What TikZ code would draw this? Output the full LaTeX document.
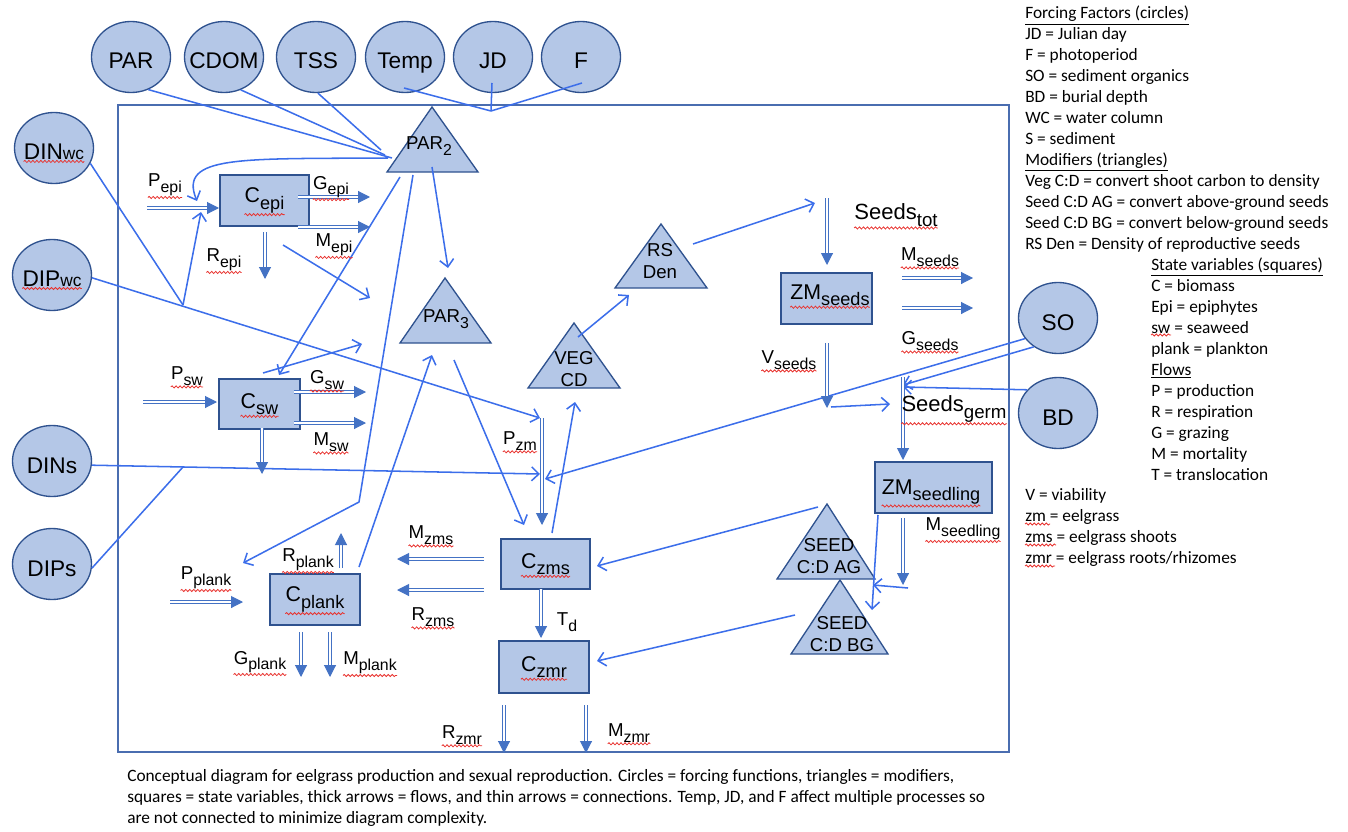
\documentclass[tikz,border=0pt]{standalone}
\usepackage{fontspec}
\setmainfont{Liberation Sans}
\newfontfamily\notefont{Carlito}
\usetikzlibrary{shapes.geometric,arrows.meta,decorations.pathmorphing}
\definecolor{boxfill}{HTML}{B4C7E7}
\definecolor{boxline}{HTML}{2F528F}
\definecolor{framecol}{HTML}{4A6DB0}
\definecolor{linkcol}{HTML}{3C6EEA}
\definecolor{flowcol}{HTML}{4472C4}
\definecolor{spellred}{HTML}{E8322E}
\makeatletter
\newcommand\lo[1]{\raisebox{-.3em}{\fontsize{\strip@pt\dimexpr.85\dimexpr\f@size pt\relax\relax}{1}\selectfont #1}}
\makeatother
\tikzset{
  forcing/.style = {ellipse, draw=boxline, fill=boxfill, line width=1pt, inner sep=0pt,
    minimum width=59.25pt, minimum height=53.25pt, text height=18pt, text depth=0pt,
    font=\fontsize{17}{20}\selectfont,
    execute at begin node={\hbox to 0pt\bgroup\hss}, execute at end node={\hss\egroup}},
  circlab/.style = {inner sep=0pt, yshift=-3pt, font=\fontsize{17}{20}\selectfont},
  statevar/.style = {rectangle, draw=boxline, fill=boxfill, line width=1pt, inner sep=0pt},
  boxlab/.style = {inner sep=0pt, font=\fontsize{16}{18}\selectfont},
  modif/.style = {draw=boxline, fill=boxfill, line width=1pt},
  modtxt/.style = {align=center, inner sep=0pt, font=\fontsize{14}{16.5}\selectfont},
  link/.style = {draw=linkcol, line width=1.15pt},
  arr/.style = {link, -{Straight Barb[length=5.5pt,width=10.5pt]}},
  flow/.style = {draw=flowcol, double=white, double distance=1.2pt, line width=0.8pt, -{Triangle[length=9pt,width=9pt]}},
  flowlab/.style = {inner sep=0pt, font=\fontsize{14}{16}\selectfont},
  seedlab/.style = {inner sep=0pt, font=\fontsize{16.5}{18}\selectfont},
  squig/.style = {draw=spellred, line width=0.6pt, decorate, decoration={snake, segment length=3pt, amplitude=0.8pt}},
  spelled/.style = {append after command={([yshift=-1pt]\tikzlastnode.south west) edge[squig] ([yshift=-1pt]\tikzlastnode.south east)}},
  legend/.style = {align=left, inner sep=0pt, anchor=north west, font=\notefont\fontsize{13}{15.7}\selectfont},
  capstyle/.style = {align=left, inner sep=0pt, anchor=north west, font=\notefont\fontsize{13}{15.75}\selectfont},
  frame/.style = {draw=framecol, line width=1.3pt}
}

\begin{document}
\begin{tikzpicture}[x=0.75pt, y=-0.75pt]
\useasboundingbox (0,0) rectangle (1348,831);
\draw[frame] (118,105) rectangle (1009,752);

% forcing factors
\node[forcing] (par) at (131,57) {PAR};
\node[forcing] (cdom) at (224,57) {CDOM};
\node[forcing] (tss) at (316,57) {TSS};
\node[forcing] (temp) at (405,57) {Temp};
\node[forcing] (jd) at (493,57) {JD};
\node[forcing] (f) at (581,57) {F};
\node[forcing] (dinwc) at (54,148) {};
\node[forcing] (dipwc) at (52,275) {};
\node[forcing] (dins) at (52,461) {DINs};
\node[forcing] (dips) at (52,564) {DIPs};
\node[forcing] (so) at (1058,318) {SO};
\node[forcing] (bd) at (1058,413) {BD};
\node[circlab, spelled] (tdinwc) at (dinwc) {DIN{\fontsize{13}{13}\selectfont wc}};
\node[circlab, spelled] (tdipwc) at (dipwc) {DIP{\fontsize{13}{13}\selectfont wc}};

% state variables
\node[statevar, minimum width=66.75pt, minimum height=38.25pt] (cepi) at (264.5,200.5) {};
\node[statevar, minimum width=60.75pt, minimum height=37.5pt] (csw) at (259.5,404) {};
\node[statevar, minimum width=67.5pt, minimum height=38.25pt] (cplank) at (315,599.5) {};
\node[statevar, minimum width=66.75pt, minimum height=37.5pt] (czms) at (545.5,564) {};
\node[statevar, minimum width=67.5pt, minimum height=39pt] (czmr) at (544,667) {};
\node[statevar, minimum width=68.25pt, minimum height=38.25pt] (zmseeds) at (826.5,298.5) {};
\node[statevar, minimum width=87.75pt, minimum height=38.25pt] (zmseedling) at (933.5,487.5) {};
\node[boxlab, spelled] (tcepi) at (cepi) {C\lo{epi}};
\node[boxlab, spelled] (tcsw) at (csw) {C\lo{sw}};
\node[boxlab, spelled] (tcplank) at (cplank) {C\lo{plank}};
\node[boxlab, spelled] (tczms) at (czms) {C\lo{zms}};
\node[boxlab, spelled] (tczmr) at (czmr) {C\lo{zmr}};
\node[boxlab, spelled] (tzmseeds) at (830,295) {ZM\lo{seeds}};
\node[boxlab, spelled] (tzmseedling) at (931,492) {ZM\lo{seedling}};

% modifiers
\filldraw[modif] (432,107) -- (478,172) -- (387,172) -- cycle;
\filldraw[modif] (445,278) -- (491,343) -- (400,343) -- cycle;
\filldraw[modif] (574,323) -- (620,388) -- (528,388) -- cycle;
\filldraw[modif] (661,224) -- (707,288) -- (615,288) -- cycle;
\filldraw[modif] (840,580) -- (888,654) -- (791,654) -- cycle;
\filldraw[modif] (827,504) -- (875,579) -- (777,579) -- cycle;
\node[modtxt] (par2) at (429,146) {PAR\lo{2}};
\node[modtxt] (par3) at (446,319) {PAR\lo{3}};
\node[modtxt] (vegcd) at (574,369) {VEG\\CD};
\node[modtxt] (rsden) at (660,261) {RS\\Den};
\node[modtxt] (seedag) at (829,556) {SEED\\C:D AG};
\node[modtxt] (seedbg) at (842,634) {SEED\\C:D BG};

% connection points
\coordinate (p2a) at (392,158); \coordinate (p2b) at (385,155); \coordinate (p2c) at (381,150);
\coordinate (tempout) at (404,88); \coordinate (jdout) at (492,83); \coordinate (fout) at (582,83);
\coordinate (fjoin) at (491,111);
\coordinate (p2bow) at (388,158); \coordinate (epiin) at (197,201);
\coordinate (wcjoin) at (183,305); \coordinate (epiin2) at (201,212);
\coordinate (epiout) at (283,245); \coordinate (epiend) at (370,298);
\coordinate (p2sw) at (400,177); \coordinate (swin) at (279,375);
\coordinate (p2pl) at (413,175); \coordinate (plbend) at (359,502); \coordinate (plin) at (243,563);
\coordinate (p2p3) at (432,167); \coordinate (p3top) at (448,268);
\coordinate (swout) at (263,373); \coordinate (swend) at (362,344);
\coordinate (plout) at (359,567); \coordinate (p3bot) at (432,355);
\coordinate (p3out) at (454,360); \coordinate (zmsin) at (524,525);
\coordinate (pzmtop) at (540,418); \coordinate (pzmmid) at (540,474); \coordinate (pzmright) at (545,479);
\coordinate (sjoin) at (183,467);
\coordinate (germin) at (903,385); \coordinate (germin2) at (903,387);
\coordinate (vjoin) at (831,407); \coordinate (germleft) at (890,404);
\coordinate (rsout) at (693,244); \coordinate (totin) at (815,203);
\coordinate (vegout) at (578,337); \coordinate (rsin) at (629,295);
\coordinate (zmsout) at (552,533); \coordinate (vegin) at (575,402);
\coordinate (agout) at (818,507); \coordinate (zmsin2) at (597,566);
\coordinate (bgout) at (795,615); \coordinate (zmrin) at (597,661);
\coordinate (slout) at (878,515); \coordinate (bgin) at (872,610);
\coordinate (slout2) at (908,588); \coordinate (agin) at (873,585);

% connections
\draw[link] (par.-62) -- (p2a);
\draw[link] (cdom.-63) -- (p2b);
\draw[link] (tss.-87) -- (p2c);
\draw[link] (tempout) -- (fjoin);
\draw[link] (jdout) -- (fjoin);
\draw[link] (fout) -- (fjoin);
\draw[arr] (p2bow) .. controls (240,159) and (178,155) .. (epiin);
\draw[link] (dinwc.-23) -- (wcjoin);
\draw[arr] (dipwc.-4) -- (pzmtop);
\draw[arr] (wcjoin) -- (epiin2);
\draw[arr] (epiout) -- (epiend);
\draw[arr] (p2sw) -- (swin);
\draw[arr] (p2pl) -- (plbend) -- (plin);
\draw[arr] (p2p3) -- (p3top);
\draw[arr] (swout) -- (swend);
\draw[arr] (plout) -- (p3bot);
\draw[arr] (p3out) -- (zmsin);
\draw[arr] (dins.-6) -- (pzmmid);
\draw[link] (dips.-6) -- (sjoin);
\draw[arr] (so.212) -- (pzmright);
\draw[arr] (so.230) -- (germin);
\draw[arr] (bd.143) -- (germin2);
\draw[arr] (vjoin) -- (germleft);
\draw[arr] (rsout) -- (totin);
\draw[arr] (vegout) -- (rsin);
\draw[arr] (zmsout) -- (vegin);
\draw[arr] (agout) -- (zmsin2);
\draw[arr] (bgout) -- (zmrin);
\draw[arr] (slout) -- (bgin);
\draw[arr] (slout2) -- (agin);

% flow points
\coordinate (pepi0) at (147,208); \coordinate (pepi1) at (219,208);
\coordinate (gepi0) at (298,197); \coordinate (gepi1) at (370,197);
\coordinate (mepi0) at (298,227); \coordinate (mepi1) at (370,227);
\coordinate (repi0) at (265,232); \coordinate (repi1) at (265,279);
\coordinate (psw0) at (143,402); \coordinate (psw1) at (217,402);
\coordinate (gsw0) at (294,392); \coordinate (gsw1) at (366,392);
\coordinate (msw0) at (294,423); \coordinate (msw1) at (366,423);
\coordinate (rsw0) at (262,428); \coordinate (rsw1) at (262,474);
\coordinate (ppl0) at (170,602); \coordinate (ppl1) at (243,602);
\coordinate (rpl0) at (341,568); \coordinate (rpl1) at (341,533);
\coordinate (gpl0) at (301,632); \coordinate (gpl1) at (301,677);
\coordinate (mpl0) at (330,632); \coordinate (mpl1) at (330,677);
\coordinate (mzms0) at (484,559); \coordinate (mzms1) at (397,559);
\coordinate (rzms0) at (484,590); \coordinate (rzms1) at (397,590);
\coordinate (pzm0) at (542,418); \coordinate (pzm1) at (542,525);
\coordinate (td0) at (541,589); \coordinate (td1) at (541,638);
\coordinate (rzmr0) at (504,705); \coordinate (rzmr1) at (504,753);
\coordinate (mzmr0) at (586,705); \coordinate (mzmr1) at (586,753);
\coordinate (tot0) at (827,198); \coordinate (tot1) at (827,265);
\coordinate (msd0) at (902,278); \coordinate (msd1) at (973,278);
\coordinate (gsd0) at (902,308); \coordinate (gsd1) at (973,308);
\coordinate (vsd0) at (827,343); \coordinate (vsd1) at (827,408);
\coordinate (germ0) at (903,377); \coordinate (germ1) at (903,460);
\coordinate (msl0) at (903,518); \coordinate (msl1) at (903,585);

% flows
\draw[flow] (pepi0) -- (pepi1);
\draw[flow] (gepi0) -- (gepi1);
\draw[flow] (mepi0) -- (mepi1);
\draw[flow] (repi0) -- (repi1);
\draw[flow] (psw0) -- (psw1);
\draw[flow] (gsw0) -- (gsw1);
\draw[flow] (msw0) -- (msw1);
\draw[flow] (rsw0) -- (rsw1);
\draw[flow] (ppl0) -- (ppl1);
\draw[flow] (rpl0) -- (rpl1);
\draw[flow] (gpl0) -- (gpl1);
\draw[flow] (mpl0) -- (mpl1);
\draw[flow] (mzms0) -- (mzms1);
\draw[flow] (rzms0) -- (rzms1);
\draw[flow] (pzm0) -- (pzm1);
\draw[flow] (td0) -- (td1);
\draw[flow] (rzmr0) -- (rzmr1);
\draw[flow] (mzmr0) -- (mzmr1);
\draw[flow] (tot0) -- (tot1);
\draw[flow] (msd0) -- (msd1);
\draw[flow] (gsd0) -- (gsd1);
\draw[flow] (vsd0) -- (vsd1);
\draw[flow] (germ0) -- (germ1);
\draw[flow] (msl0) -- (msl1);

% flow labels
\node[flowlab, spelled] (lpepi) at (165,185) {P\lo{epi}};
\node[flowlab, spelled] (lgepi) at (331,187) {G\lo{epi}};
\node[flowlab, spelled] (lmepi) at (334,245) {M\lo{epi}};
\node[flowlab, spelled] (lrepi) at (224,260) {R\lo{epi}};
\node[flowlab, spelled] (lpsw) at (187,376) {P\lo{sw}};
\node[flowlab, spelled] (lgsw) at (327,380) {G\lo{sw}};
\node[flowlab, spelled] (lmsw) at (331,442) {M\lo{sw}};
\node[flowlab, spelled] (lppl) at (206,578) {P\lo{plank}};
\node[flowlab, spelled] (lrpl) at (308,560) {R\lo{plank}};
\node[flowlab, spelled] (lgpl) at (260,662) {G\lo{plank}};
\node[flowlab, spelled] (lmpl) at (370,663) {M\lo{plank}};
\node[flowlab, spelled] (lmzms) at (431,535) {M\lo{zms}};
\node[flowlab, spelled] (lrzms) at (433,617) {R\lo{zms}};
\node[flowlab, spelled] (lpzm) at (520,441) {P\lo{zm}};
\node[flowlab] (ltd) at (567,622) {T\lo{d}};
\node[flowlab, spelled] (lrzmr) at (462,735) {R\lo{zmr}};
\node[flowlab, spelled] (lmzmr) at (629,733) {M\lo{zmr}};
\node[seedlab, spelled] (ltot) at (896,215) {Seeds\lo{tot}};
\node[flowlab, spelled] (lmsd) at (930,257) {M\lo{seeds}};
\node[flowlab, spelled] (lgsd) at (930,341) {G\lo{seeds}};
\node[flowlab, spelled] (lvsd) at (789,360) {V\lo{seeds}};
\node[seedlab, spelled] (lgerm) at (954,409) {Seeds\lo{germ}};
\node[flowlab, spelled] (lmsl) at (963,529) {M\lo{seedling}};

% legend and caption
\node[legend] (forcings) at (1025,6) {\underline{Forcing Factors (circles)}\\JD = Julian day\\F = photoperiod\\SO = sediment organics\\BD = burial depth\\WC = water column\\S = sediment\\\underline{Modifiers (triangles)}\\Veg C:D = convert shoot carbon to density\\Seed C:D AG = convert above-ground seeds\\Seed C:D BG = convert below-ground seeds\\RS Den = Density of reproductive seeds};
\node[legend] (statevars) at (1151,258) {\underline{State variables (squares)}\\C = biomass\\Epi = epiphytes\\sw = seaweed\\plank = plankton\\\underline{Flows}\\P = production\\R = respiration\\G = grazing\\M = mortality\\T = translocation};
\node[legend] (subnames) at (1025,488) {V = viability\\zm = eelgrass\\zms = eelgrass shoots\\zmr = eelgrass roots/rhizomes};
\draw[squig] (1151,335) -- (1171,335);
\draw[squig] (1025,524) -- (1050,524);
\draw[squig] (1025,545) -- (1056,545);
\draw[squig] (1025,566) -- (1055,566);
\node[capstyle] (capt) at (127,769) {Conceptual diagram for eelgrass production and sexual reproduction. Circles = forcing functions, triangles = modifiers,\\squares = state variables, thick arrows = flows, and thin arrows = connections. Temp, JD, and F affect multiple processes so\\are not connected to minimize diagram complexity.};
\end{tikzpicture}
\end{document}
